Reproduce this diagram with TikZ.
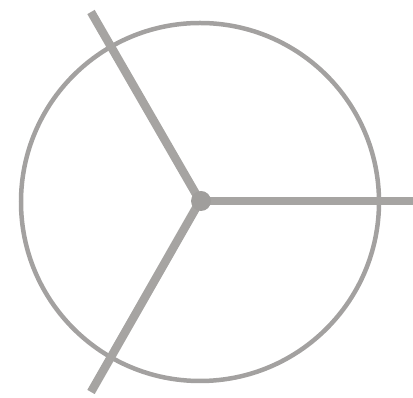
\documentclass[tikz,border=0pt]{standalone}
\begin{document}
\begin{tikzpicture}[x=1pt,y=1pt,
  spoke/.style={draw=spokegray, line width=8.5pt},
  hub/.style={circle, fill=hubgray, minimum size=20pt, inner sep=0pt}]
\definecolor{spokegray}{HTML}{A6A4A2}
\definecolor{hubgray}{HTML}{A09E9C}
\definecolor{ringgray}{HTML}{A3A1A0}
\useasboundingbox (0,0) rectangle (413,398);
\draw[draw=ringgray, line width=4.5pt] (200,196) circle (179);
\coordinate (e1) at (413,197);
\coordinate (e2) at (91,386);
\coordinate (e3) at (91,6);
\draw[spoke] (200,197) -- (e1);
\draw[spoke] (200,197) -- (e2);
\draw[spoke] (200,197) -- (e3);
\node[hub] (c) at (201,197) {};
\end{tikzpicture}
\end{document}
